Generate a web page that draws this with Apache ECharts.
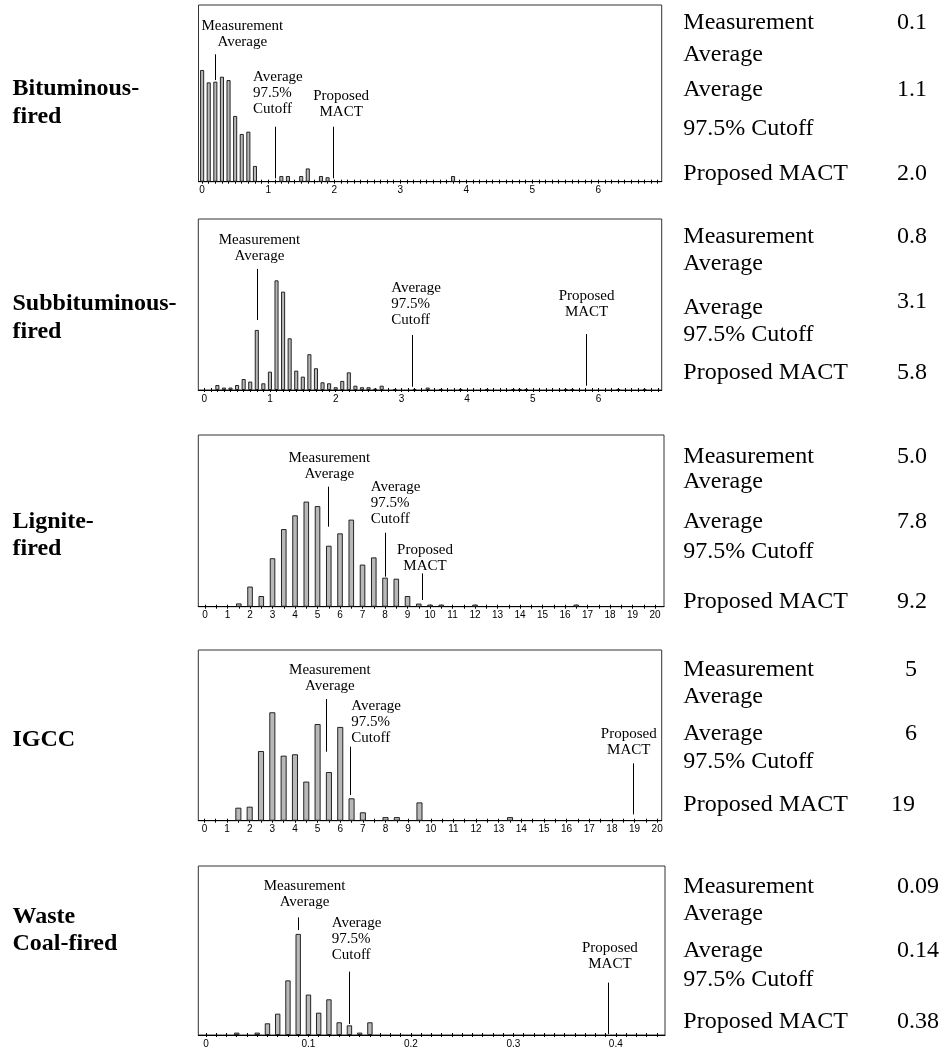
<!DOCTYPE html>
<html><head><meta charset="utf-8">
<script src="https://cdn.jsdelivr.net/npm/echarts@6/dist/echarts.min.js"></script>
<style>html,body{margin:0;padding:0;background:#fff}#chart{width:951px;height:1050px}</style>
</head><body><div id="chart"></div>
<script>
// ---------------- DATA (bar heights = % of panel height) ----------------
const bitX = [0, 0.1, 0.2, 0.3, 0.4, 0.5, 0.6, 0.7, 0.8, 1.2, 1.3, 1.5, 1.6, 1.8, 1.9, 3.8];
const bitY = [63.2, 56.2, 56.6, 59.4, 57.5, 37.2, 27.0, 28.3, 8.9, 3.2, 3.2, 3.2, 7.5, 3.2, 2.5, 3.2];

const subX = [0.2, 0.3, 0.4, 0.5, 0.6, 0.7, 0.8, 0.9, 1.0, 1.1, 1.2, 1.3, 1.4, 1.5, 1.6, 1.7, 1.8, 1.9, 2.0, 2.1, 2.2, 2.3, 2.4, 2.5, 2.6, 2.7, 2.9, 3.2, 3.4, 3.6, 3.9, 4.3, 4.7, 4.8, 4.9, 5.5, 5.6, 6.3, 6.7];
const subY = [2.9, 1.4, 1.4, 2.9, 6.4, 4.9, 35.1, 3.9, 10.7, 64.1, 57.5, 30.2, 11.3, 7.8, 20.9, 12.7, 4.5, 3.9, 1.6, 5.3, 10.3, 2.5, 1.6, 1.6, 0.8, 2.5, 0.6, 0.6, 1.4, 0.6, 0.6, 0.6, 0.6, 0.6, 0.6, 0.6, 0.6, 0.6, 0.6];

const ligX = [1.5, 2, 2.5, 3, 3.5, 4, 4.5, 5, 5.5, 6, 6.5, 7, 7.5, 8, 8.5, 9, 9.5, 10, 10.5, 12, 16.5];
const ligY = [1.9, 11.7, 6.2, 28.2, 45.2, 53.2, 61.2, 58.6, 35.5, 42.7, 50.7, 24.5, 28.7, 16.9, 16.3, 6.2, 1.8, 1.2, 1.2, 1.2, 1.2];

const igccX = [1.5, 2, 2.5, 3, 3.5, 4, 4.5, 5, 5.5, 6, 6.5, 7, 8, 8.5, 9.5, 13.5];
const igccY = [7.6, 8.2, 40.8, 63.5, 38.1, 38.9, 22.9, 56.6, 28.5, 54.9, 13.1, 4.9, 2.1, 2.1, 10.7, 2.1];

const wasteX = [0.03, 0.05, 0.06, 0.07, 0.08, 0.09, 0.10, 0.11, 0.12, 0.13, 0.14, 0.15, 0.16];
const wasteY = [1.4, 1.4, 6.9, 12.6, 32.3, 59.8, 23.9, 13.2, 21.1, 7.5, 5.7, 1.4, 7.5];

// marker lines: x position, line top, line bottom (same units as bars)
const markerLabels = ['Measurement\nAverage', 'Average\n97.5%\nCutoff', 'Proposed\nMACT'];
const bitMarkX = [0.2, 1.1, 1.98];    const bitMarkTop = [72.1, 31.1, 31.1];  const bitMarkBottom = [57.5, 1.9, 1.9];
const subMarkX = [0.81, 3.16, 5.81];  const subMarkTop = [70.8, 32.2, 32.7];  const subMarkBottom = [40.9, 1.9, 2.5];
const ligMarkX = [5.48, 8.0, 9.63];   const ligMarkTop = [69.9, 43.1, 19.4];  const ligMarkBottom = [46.6, 17.5, 3.9];
const igccMarkX = [5.38, 6.43, 18.92]; const igccMarkTop = [71.3, 43.4, 33.6]; const igccMarkBottom = [40.4, 15.0, 3.7];
const wasteMarkX = [0.09, 0.14, 0.392]; const wasteMarkTop = [69.6, 37.5, 31.0]; const wasteMarkBottom = [62.1, 6.5, 0.6];

// tick labels
const xLabelsA = [0, 1, 2, 3, 4, 5, 6];
const xLabelsB = [0, 1, 2, 3, 4, 5, 6, 7, 8, 9, 10, 11, 12, 13, 14, 15, 16, 17, 18, 19, 20];
const xLabelsC = [0, 0.1, 0.2, 0.3, 0.4];

// side texts
const panelNames = [['Bituminous-', 'fired'], ['Subbituminous-', 'fired'], ['Lignite-', 'fired'], ['IGCC'], ['Waste', 'Coal-fired']];
const tableLabels = ['Measurement', 'Average', 'Average', '97.5% Cutoff', 'Proposed MACT'];
const bitValues = ['0.1', '1.1', '2.0'];
const subValues = ['0.8', '3.1', '5.8'];
const ligValues = ['5.0', '7.8', '9.2'];
const igccValues = ['5', '6', '19'];
const wasteValues = ['0.09', '0.14', '0.38'];

// ---------------- LAYOUT ----------------
function tickList(max, step) {
  const out = []; const n = Math.round(max / step);
  for (let k = 0; k <= n; k++) out.push(+(k * step).toFixed(4));
  return out;
}
const L = (dx, gap, align) => ({ dx, gap, align });
const panels = [
  { x: bitX, y: bitY, mx: bitMarkX, mt: bitMarkTop, mb: bitMarkBottom, vals: bitValues,
    grid: { left: 198.5, top: 5, width: 463.2, height: 176.7 }, min: -0.055, max: 6.96,
    labels: xLabelsA, ticks: tickList(6.9, 0.1), bw: 4,
    lay: [L(27, 7.6, 'center'), L(-21.7, 13, 'left'), L(8.3, 9.4, 'center')],
    nameBase: [97.3, 125], rowBase: [30.7, 63.3, 98.3, 136.7, 181.7], valBase: [30.7, 98.3, 181.7], valX: [897, 897, 897] },
  { x: subX, y: subY, mx: subMarkX, mt: subMarkTop, mb: subMarkBottom, vals: subValues,
    grid: { left: 198.3, top: 219, width: 463.4, height: 171 }, min: -0.09, max: 6.96,
    labels: xLabelsA, ticks: tickList(6.9, 0.1), bw: 4,
    lay: [L(2, 7.3, 'center'), L(-20.7, 10, 'left'), L(0.5, 17.3, 'center')],
    nameBase: [312, 340], rowBase: [245, 271.7, 315.7, 343.3, 380.7], valBase: [245, 310, 380.7], valX: [897, 897, 897] },
  { x: ligX, y: ligY, mx: ligMarkX, mt: ligMarkTop, mb: ligMarkBottom, vals: ligValues,
    grid: { left: 198.3, top: 435, width: 465.7, height: 171.7 }, min: -0.3, max: 20.4,
    labels: xLabelsB, ticks: tickList(20, 0.5), bw: 5.5,
    lay: [L(1, 7.3, 'center'), L(-14.3, 8.7, 'left'), L(3.3, 2.7, 'center')],
    nameBase: [530, 557], rowBase: [465, 490, 530, 560, 610], valBase: [465, 530, 610], valX: [897, 897, 897] },
  { x: igccX, y: igccY, mx: igccMarkX, mt: igccMarkTop, mb: igccMarkBottom, vals: igccValues,
    grid: { left: 198.3, top: 650, width: 463.4, height: 170.7 }, min: -0.27, max: 20.2,
    labels: xLabelsB, ticks: tickList(20, 0.5), bw: 6,
    lay: [L(3.7, 8.3, 'center'), L(1.3, 3.3, 'left'), L(-4, 8.3, 'center')],
    nameBase: [748], rowBase: [678.3, 705, 741.7, 770, 813.3], valBase: [678.3, 741.7, 813.3], valX: [905, 905, 891] },
  { x: wasteX, y: wasteY, mx: wasteMarkX, mt: wasteMarkTop, mb: wasteMarkBottom, vals: wasteValues,
    grid: { left: 198.3, top: 866, width: 466.7, height: 169 }, min: -0.0075, max: 0.448,
    labels: xLabelsC, ticks: tickList(0.44, 0.01), bw: 5.3,
    lay: [L(6.3, 10.7, 'center'), L(-17.7, 11, 'left'), L(2.3, 13.3, 'center')],
    nameBase: [925, 952], rowBase: [895, 921.7, 959, 987.7, 1030], valBase: [895, 959, 1030], valX: [897, 897, 897] }
];

const SERIF = '"Liberation Serif", "Times New Roman", serif';
const grids = [], xAxes = [], yAxes = [], series = [], graphics = [];

panels.forEach((p, i) => {
  grids.push(Object.assign({ show: true, borderColor: '#333', borderWidth: 1, backgroundColor: 'transparent',
    containLabel: false, outerBoundsMode: 'none' }, p.grid));
  xAxes.push({
    type: 'value', gridIndex: i, position: 'bottom', min: p.min, max: p.max,
    axisLine: { show: true, lineStyle: { color: '#000', width: 1 } },
    axisTick: { show: true, inside: false, length: 2, customValues: p.ticks, lineStyle: { color: '#000', width: 1 } },
    axisLabel: { show: true, customValues: p.labels, margin: 4, color: '#000', fontSize: 10,
      fontFamily: '"Liberation Sans", Arial, sans-serif' },
    splitLine: { show: false }
  });
  xAxes.push({
    type: 'value', gridIndex: i, position: 'bottom', min: p.min, max: p.max,
    axisLine: { show: false },
    axisTick: { show: true, inside: true, length: 2, customValues: p.ticks, lineStyle: { color: '#000', width: 1 } },
    axisLabel: { show: false }, splitLine: { show: false }
  });
  yAxes.push({ type: 'value', gridIndex: i, min: 0, max: 100, show: false, splitLine: { show: false } });

  series.push({
    type: 'bar', xAxisIndex: 2 * i, yAxisIndex: i, barWidth: p.bw, silent: true,
    data: p.x.map((x, k) => [x, p.y[k]]),
    itemStyle: { color: '#b8b8b8', borderColor: '#111', borderWidth: 0.9 }
  });
  const lay = p.lay;
  series.push({
    type: 'custom', xAxisIndex: 2 * i, yAxisIndex: i, silent: true, clip: false, z: 5,
    data: p.mx.map((x, k) => [x, p.mt[k], p.mb[k]]),
    renderItem: function (params, api) {
      const k = params.dataIndex;
      const a = api.coord([api.value(0), api.value(1)]);
      const b = api.coord([api.value(0), api.value(2)]);
      const lx = Math.round(a[0]) + 0.5;
      const s = lay[k];
      return { type: 'group', children: [
        { type: 'line', shape: { x1: lx, y1: a[1], x2: lx, y2: b[1] }, style: { stroke: '#000', lineWidth: 1 } },
        { type: 'text', style: { text: markerLabels[k], x: a[0] + s.dx, y: a[1] - s.gap + 2.9,
          align: s.align, verticalAlign: 'bottom', font: '15px ' + SERIF, lineHeight: 16, fill: '#000' } }
      ] };
    }
  });

  // left panel names
  panelNames[i].forEach((t, k) => {
    graphics.push({ type: 'text', silent: true, style: { text: t, x: 12.5, y: p.nameBase[k] - 8.1,
      verticalAlign: 'middle', font: 'bold 24px ' + SERIF, fill: '#000' } });
  });
  // right table
  tableLabels.forEach((t, k) => {
    graphics.push({ type: 'text', silent: true, style: { text: t, x: 683.3, y: p.rowBase[k] - 8.1,
      verticalAlign: 'middle', font: '24px ' + SERIF, fill: '#000' } });
  });
  p.vals.forEach((t, k) => {
    graphics.push({ type: 'text', silent: true, style: { text: t, x: p.valX[k], y: p.valBase[k] - 8.1,
      verticalAlign: 'middle', font: '24px ' + SERIF, fill: '#000' } });
  });
});

const chart = echarts.init(document.getElementById('chart'), null, { renderer: 'canvas' });
chart.setOption({
  backgroundColor: '#fff', animation: false,
  grid: grids, xAxis: xAxes, yAxis: yAxes, series: series, graphic: graphics
});
</script></body></html>
